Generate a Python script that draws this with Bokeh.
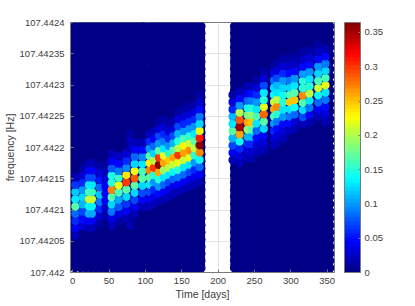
from bokeh.plotting import figure
from bokeh.models import ColumnDataSource, LinearColorMapper, ColorBar, FixedTicker, Range1d
from bokeh.embed import file_html
from bokeh.resources import INLINE

# Background columns (days) with their near-zero level
bg_days = [2.8, 11.1, 18.1, 25.1, 32.1, 39.1, 46.1, 53.1, 60.1, 67.1, 74.1, 81.1, 88.1, 95.1, 99.0,
           107.2, 114.2, 121.2, 128.2, 135.2, 142.2, 149.2, 156.2, 163.2, 170.2, 176.4,
           222.5, 229.5, 236.5, 243.5, 250.5, 257.5, 264.5, 271.5, 278.5, 285.5, 292.5, 299.5, 306.5, 313.5, 320.5, 327.5, 334.5, 341.5, 348.5, 353.6]
bg_edge_days = [3.3, 175.9, 223.0]   # columns at the half-bin position
bg_level = 0.004
f_origin = 107.442
row_step = 11.57       # micro-hertz between neighbouring frequency bins
bg_base = 7.4          # micro-hertz above f_origin
bg_step = 11.37
bg_rows = 35

# Hot columns: day, frequency of lowest listed bin (micro-hertz above f_origin), power going upward
hot_day = [3.7, 13.7, 22.5, 26.5, 37.1, 45, 53.6, 63.2, 73.8, 79, 79, 85.2, 95.8,
           105.8, 111.7, 118.6, 125.4, 132.3, 138.4, 145.2, 152.9, 160.8, 167.6, 174.5,
           219.8, 229.5, 240.5, 245.5, 252.8, 262.8, 276.9, 281, 289.5, 298.6, 305, 316.4, 325.6, 337.6, 347.6]
hot_base = [59.2, 74.2, 70.9, 70.9, 78.4, 91.2, 74.2, 81.6, 86.4, 198.4, 75.2, 92.8, 104.0,
            105.6, 109.6, 114.2, 117.4, 121.3, 126.4, 129.6, 133.6, 137.6, 141.1, 145.6,
            180.0, 174.7, 182.4, 182.4, 192.0, 195.2, 203.2, 207.2, 214.4, 226.4, 229.6, 236.8, 240.3, 248.8, 241.6]
hot_vals = [
    [.02, .04, .06, .08, .17, .13, .115, .065, .02],
    [.03, .05, .07, .11, .12, .10, .06, .03, .015],
    [.02, .045, .11, .14, .215, .16, .135, .07, .04, .02],
    [.02, .045, .105, .135, .21, .155, .13, .07, .04, .02],
    [.015, .03, .06, .09, .115, .085, .055, .03, .015],
    [.015, .025, .04, .045, .04, .03, .02, .01],
    [.02, .035, .09, .125, .17, .27, .15, .145, .075, .04, .02],
    [.015, .035, .075, .105, .165, .22, .155, .09, .05, .025],
    [.02, .04, .065, .12, .17, .30, .235, .095, .06, .03],
    [.02, .02, .015],
    [.02, .015],
    [.02, .04, .07, .12, .17, .285, .225, .12, .08, .045, .02],
    [.02, .04, .07, .12, .17, .16, .13, .095, .05, .02],
    [.02, .04, .07, .13, .17, .27, .23, .17, .10, .06, .025],
    [.02, .035, .06, .10, .15, .30, .20, .12, .08, .04, .02],
    [.02, .05, .10, .15, .26, .36, .30, .17, .10, .07, .03, .015],
    [.02, .04, .08, .13, .19, .26, .22, .13, .09, .06, .03, .015],
    [.02, .035, .07, .13, .20, .25, .15, .10, .06, .03, .015],
    [.02, .035, .08, .14, .21, .26, .17, .11, .07, .03, .015],
    [.02, .04, .09, .15, .22, .30, .20, .15, .11, .07, .03, .015],
    [.02, .04, .08, .13, .21, .26, .23, .16, .10, .06, .03, .015],
    [.02, .035, .07, .13, .22, .27, .21, .15, .10, .06, .03, .015],
    [.02, .035, .06, .10, .15, .20, .17, .13, .10, .06, .03, .015],
    [.02, .04, .08, .14, .27, .36, .31, .22, .12, .09, .05, .025, .015],
    [.02, .04, .07, .11, .17, .13, .11, .06, .03, .015],
    [.02, .03, .06, .14, .26, .35, .29, .20, .10, .05, .02],
    [.02, .03, .06, .11, .19, .26, .18, .14, .08, .04, .02],
    [.02, .03, .06, .11, .17, .25, .19, .15, .09, .05, .02],
    [.02, .03, .05, .08, .13, .16, .13, .10, .06, .03, .015],
    [.02, .03, .05, .12, .17, .28, .22, .15, .13, .07, .03, .015],
    [.02, .03, .06, .10, .16, .26, .21, .14, .12, .08, .04, .015],
    [.02, .03, .05, .09, .15, .27, .20, .13, .11, .07, .03, .015],
    [.02, .03, .05, .10, .13, .15, .14, .12, .10, .06, .03, .015],
    [.02, .05, .09, .13, .25, .17, .12, .09, .05, .025, .015],
    [.02, .03, .08, .14, .25, .17, .13, .10, .05, .025, .015],
    [.02, .07, .12, .17, .27, .15, .15, .10, .05, .025, .015],
    [.02, .04, .09, .13, .20, .15, .13, .10, .05, .03, .015],
    [.02, .04, .08, .14, .21, .16, .12, .10, .05, .025, .015],
    [.02, .03, .05, .09, .13, .22, .165, .12, .09, .05, .02],
]

x_ticks = [0, 50, 100, 150, 200, 250, 300, 350]
y_ticks = [107.442, 107.44205, 107.4421, 107.44215, 107.4422, 107.44225, 107.4423, 107.44235, 107.4424]
y_tick_labels = ["107.442", "107.44205", "107.4421", "107.44215", "107.4422", "107.44225", "107.4423", "107.44235", "107.4424"]
cb_ticks = [0, 0.05, 0.1, 0.15, 0.2, 0.25, 0.3, 0.35]
cb_tick_labels = ["0", "0.05", "0.1", "0.15", "0.2", "0.25", "0.3", "0.35"]
x_label = "Time [days]"
y_label = "frequency [Hz]"


def jet(n):
    out = []
    for i in range(n):
        t = (i + 0.5) / n
        r = min(max(min(4 * t - 1.5, -4 * t + 4.5), 0), 1)
        g = min(max(min(4 * t - 0.5, -4 * t + 3.5), 0), 1)
        b = min(max(min(4 * t + 0.5, -4 * t + 2.5), 0), 1)
        out.append("#%02x%02x%02x" % (int(r * 255), int(g * 255), int(b * 255)))
    return out


xs, ys, vs, ss = [], [], [], []
for d in bg_days:
    for k in range(bg_rows):
        xs.append(d)
        ys.append(f_origin + (bg_base + k * bg_step) * 1e-6)
        vs.append(bg_level)
        ss.append(9.2)
for d in bg_edge_days:
    for k in range(bg_rows - 1):
        xs.append(d)
        ys.append(f_origin + (bg_base + (k + 0.5) * bg_step) * 1e-6)
        vs.append(bg_level)
        ss.append(9.2)
for d, b, col in zip(hot_day, hot_base, hot_vals):
    for k, v in enumerate(col):
        xs.append(d)
        ys.append(f_origin + (b + k * row_step) * 1e-6)
        vs.append(v)
        ss.append(8.2)

FONT = "Liberation Sans"
TXT = "#404040"
LINE = "#7a7a7a"

p = figure(width=415, height=306, output_backend="svg", toolbar_location=None,
           x_range=Range1d(-3, 360), y_range=Range1d(107.442, 107.4424),
           min_border_left=70, min_border_right=81, min_border_top=22, min_border_bottom=34,
           background_fill_color="white", border_fill_color="white")

mapper = LinearColorMapper(palette=jet(64), low=0, high=0.3645)
src = ColumnDataSource(dict(x=xs, y=ys, v=vs, s=ss))
p.scatter("x", "y", source=src, size="s", line_color=None,
          fill_color={"field": "v", "transform": mapper})

p.xaxis.ticker = FixedTicker(ticks=x_ticks)
p.yaxis.ticker = FixedTicker(ticks=y_ticks)
p.yaxis.major_label_overrides = dict(zip(y_ticks, y_tick_labels))
p.xaxis.axis_label = x_label
p.yaxis.axis_label = y_label
for ax in (p.xaxis[0], p.yaxis[0]):
    ax.axis_label_text_font = FONT
    ax.axis_label_text_font_size = "10.5px"
    ax.axis_label_text_font_style = "normal"
    ax.axis_label_text_color = TXT
    ax.major_label_text_font = FONT
    ax.major_label_text_font_size = "9.5px"
    ax.major_label_text_color = TXT
    ax.axis_line_color = LINE
    ax.major_tick_line_color = LINE
    ax.major_tick_in = 3
    ax.major_tick_out = 0
    ax.minor_tick_line_color = None
    ax.axis_label_standoff = 1
p.xaxis.major_label_standoff = 5
p.yaxis.major_label_standoff = 6
p.yaxis.major_label_orientation = "horizontal"
p.grid.grid_line_color = "#e4e4e4"
p.outline_line_color = LINE

cb = ColorBar(color_mapper=mapper, width=16, height=250, padding=0, margin=0, location=(10, 0),
              ticker=FixedTicker(ticks=cb_ticks),
              major_label_overrides=dict(zip(cb_ticks, cb_tick_labels)),
              major_label_text_font=FONT, major_label_text_font_size="9.5px",
              major_label_text_color=TXT, major_tick_line_color=LINE, major_tick_in=2,
              minor_tick_line_color=None, bar_line_color=LINE, label_standoff=4,
              border_line_color=None, background_fill_color=None)
p.add_layout(cb, "right")

open("out.html", "w").write(file_html(p, INLINE))
